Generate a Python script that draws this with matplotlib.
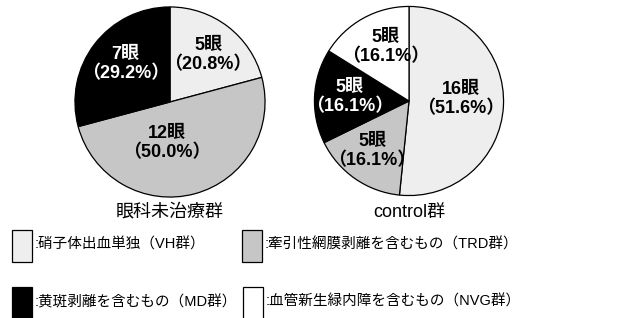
import matplotlib.pyplot as plt
from matplotlib.patches import Rectangle

plt.rcParams['font.family'] = ['Liberation Sans', 'Noto Sans CJK JP', 'DejaVu Sans']

# data
groups = ['眼科未治療群', 'control群']
categories = ['VH群', 'TRD群', 'MD群', 'NVG群']
legend_labels = [':硝子体出血単独（VH群）', ':牽引性網膜剥離を含むもの（TRD群）',
                 ':黄斑剥離を含むもの（MD群）', ':血管新生緑内障を含むもの（NVG群）']
untreated_counts = [5, 12, 7, 0]
untreated_pcts = [20.8, 50.0, 29.2, 0.0]
control_counts = [16, 5, 5, 5]
control_pcts = [51.6, 16.1, 16.1, 16.1]

colors = ['#eeeeee', '#c6c6c6', '#000000', '#ffffff']
text_colors = ['black', 'black', 'white', 'black']

# label positions (in pie radius units)
pos_untreated = [(0.40, 0.49), (-0.03, -0.43), (-0.47, 0.40), None]
pos_control = [(0.55, 0.02), (-0.39, -0.53), (-0.63, 0.04), (-0.25, 0.57)]

W, H = 633, 318
fig = plt.figure(figsize=(W / 100, H / 100), dpi=100)


def draw_pie(cx, cy, r, counts, pcts, positions, title):
    ax = fig.add_axes([(cx - r) / W, (H - cy - r) / H, 2 * r / W, 2 * r / H])
    vals = [c for c in counts if c > 0]
    cols = [colors[i] for i, c in enumerate(counts) if c > 0]
    ax.pie(vals, colors=cols, startangle=90, counterclock=False,
           wedgeprops=dict(edgecolor='black', linewidth=0.9))
    ax.set_xlim(-1.01, 1.01)
    ax.set_ylim(-1.01, 1.01)
    ax.set_aspect('equal')
    for i, (c, p) in enumerate(zip(counts, pcts)):
        if c == 0:
            continue
        x, y = positions[i]
        ax.text(x, y, f'{c}眼\n（{p:.1f}%）', ha='center', va='center',
                fontsize=13, fontweight='bold', color=text_colors[i],
                linespacing=1.15)
    fig.text(cx / W, 1 - 212 / H, title, ha='center', va='center', fontsize=13)


draw_pie(170, 102, 96, untreated_counts, untreated_pcts, pos_untreated, groups[0])
draw_pie(409, 101, 95.5, control_counts, control_pcts, pos_control, groups[1])

# legend
box_pos = [(12, 230, 245), (242, 230, 245), (12, 287, 302), (243, 287, 302)]
for k, (bx, by, ty) in enumerate(box_pos):
    fig.add_artist(Rectangle((bx / W, 1 - (by + 32) / H), 20 / W, 32 / H,
                             transform=fig.transFigure, facecolor=colors[k],
                             edgecolor='black', linewidth=0.9))
    fig.text((bx + 23) / W, 1 - ty / H, legend_labels[k], ha='left',
             va='center', fontsize=10.5)

fig.savefig('out.png', dpi=100, facecolor='white')
